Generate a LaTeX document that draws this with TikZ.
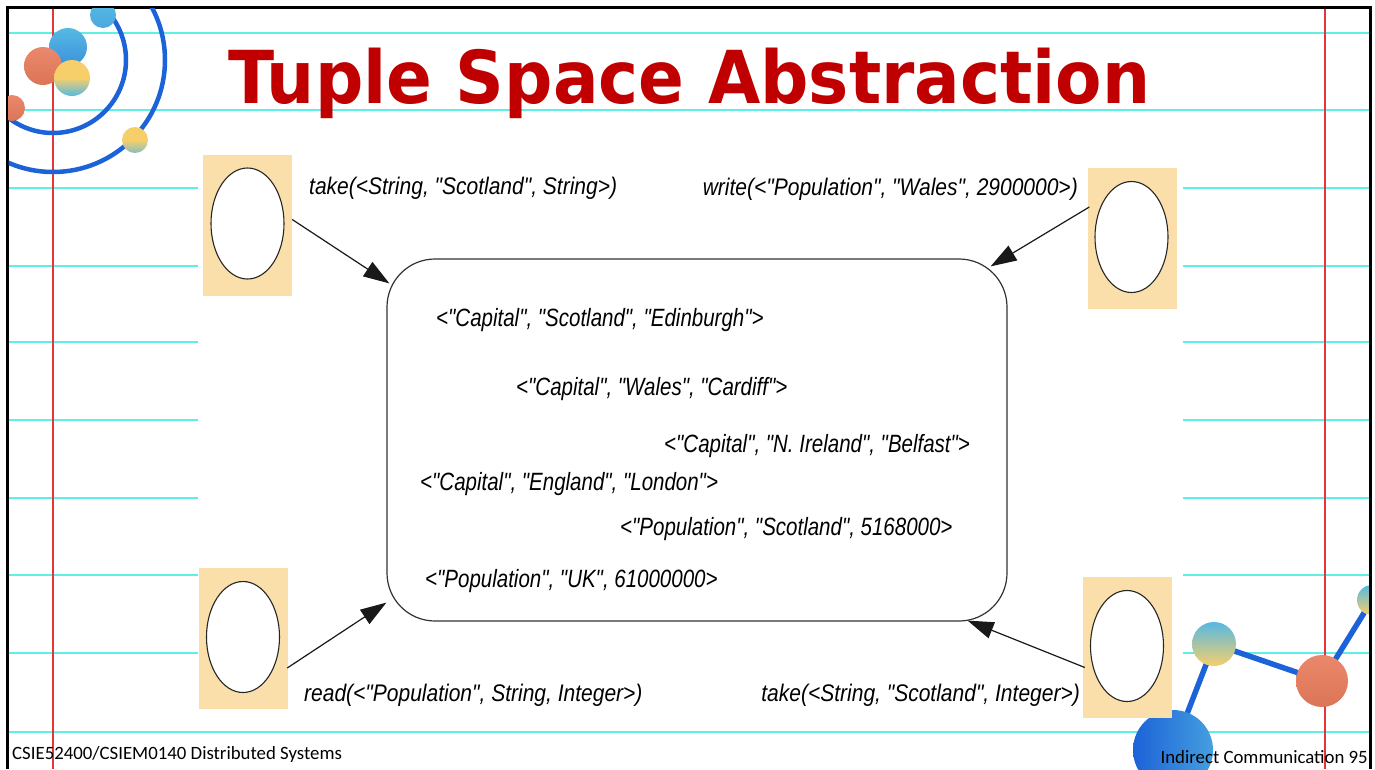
\documentclass[tikz,border=0pt]{standalone}
\usepackage{fontspec}
\setmainfont{Liberation Sans}
\newfontfamily\titlefont[FakeStretch=0.926]{DejaVu Sans}
\newfontfamily\opfont[FakeStretch=0.875]{Liberation Sans}
\newfontfamily\tuplefont[FakeStretch=0.82]{Liberation Sans}
\newfontfamily\footfont{Carlito}
\usetikzlibrary{arrows.meta,shapes.geometric,calc}

\definecolor{ruleline}{HTML}{5EEFE6}
\definecolor{marginred}{HTML}{E3353A}
\definecolor{titlered}{HTML}{C00000}
\definecolor{peach}{HTML}{FBDFAB}
\definecolor{orbitblue}{HTML}{1C62D8}
\definecolor{skyblue}{HTML}{56B9E2}
\definecolor{sunyellow}{HTML}{F6CF6B}
\definecolor{coral}{HTML}{E87B5B}

\tikzset{
  ruled/.style={draw=ruleline, line width=2.6pt},
  margin/.style={draw=marginred, line width=1.6pt},
  procbox/.style={fill=peach, inner sep=0pt, minimum width=89pt, minimum height=141pt},
  proc/.style={ellipse, draw=black!85, fill=white, line width=1.1pt, inner sep=0pt,
               minimum width=73pt, minimum height=111pt},
  spacebox/.style={draw=black!80, line width=1.2pt, rounded corners=48pt, inner sep=0pt,
                   minimum width=620pt, minimum height=362pt},
  optext/.style={font=\opfont\itshape\fontsize{24}{24}\selectfont, inner sep=0pt},
  tupletext/.style={font=\tuplefont\itshape\fontsize{25}{25}\selectfont, inner sep=0pt, anchor=base west},
  conn/.style={draw=black!90, line width=1.2pt, -{Triangle[length=26pt,width=17pt]}},
  orbit/.style={draw=orbitblue, line width=4.5pt},
  link/.style={draw=orbitblue, line width=5.5pt},
  foot/.style={font=\footfont\fontsize{18.8}{19}\selectfont, inner sep=0pt},
}

\begin{document}
\begin{tikzpicture}[x=1pt,y=-1pt]
\useasboundingbox (0,0) rectangle (1375,769);
\fill[white] (0,0) rectangle (1375,769);

% notebook paper: ruled lines and margins
\foreach \yy in {33,110,188,266,342,420,498,575,653,732}
  \draw[ruled] (8,\yy) -- (1370,\yy);
\draw[margin] (53,8) -- (53,769);
\draw[margin] (1325,8) -- (1325,769);

% white panel behind the diagram
\fill[white] (198,140) rectangle (1183,722);

% slide frame
\draw[line width=3pt] (7,769) -- (7,7) -- (1370,7) -- (1370,769);

% corner ornaments
\begin{scope}
  \clip (8.5,8.5) rectangle (1368.5,769);
  % orbits, top left
  \draw[orbit] (53,60) circle[radius=73];
  \draw[orbit] (53,60) circle[radius=112];
  \shade[top color=skyblue, bottom color=skyblue!80!orbitblue] (103,15) circle[radius=13];
  \shade[top color=skyblue, bottom color=skyblue!55!orbitblue] (68,47) circle[radius=19];
  \shade[top color=coral!90!white, bottom color=coral!95!black] (43,66) circle[radius=19];
  \shade[top color=sunyellow, bottom color=skyblue, middle color=sunyellow] (72,78) circle[radius=18];
  \shade[top color=coral!90!white, bottom color=coral!95!black] (12,108) circle[radius=13];
  \shade[top color=sunyellow, bottom color=skyblue!70!sunyellow, middle color=sunyellow] (135,140) circle[radius=13];
  % molecule, bottom right
  \draw[link] (1173,750) -- (1214,644) -- (1322,681) -- (1372,600);
  \shade[left color=orbitblue, right color=skyblue!70!orbitblue] (1173,750) circle[radius=40];
  \shade[shading angle=135, top color=skyblue, bottom color=sunyellow] (1214,644) circle[radius=22];
  \shade[top color=coral!90!white, bottom color=coral!95!black] (1322,681) circle[radius=26];
  \shade[shading angle=135, top color=skyblue, bottom color=sunyellow] (1372,600) circle[radius=15];
\end{scope}

% title
\node[font=\titlefont\bfseries\fontsize{73}{73}\selectfont, text=titlered, inner sep=0pt,
      anchor=base west] (title) at (228,103) {Tuple Space Abstraction};

% the tuple space
\node[spacebox] (space) at (697,440) {};
\node[tupletext] (t1) at (436,326) {<"Capital", "Scotland", "Edinburgh">};
\node[tupletext] (t2) at (516,395) {<"Capital", "Wales", "Cardiff">};
\node[tupletext] (t3) at (664,452) {<"Capital", "N. Ireland", "Belfast">};
\node[tupletext] (t4) at (420,490) {<"Capital", "England", "London">};
\node[tupletext] (t5) at (620,535) {<"Population", "Scotland", 5168000>};
\node[tupletext] (t6) at (425,587) {<"Population", "UK", 61000000>};

% processes
\node[procbox] (boxTL) at (247.5,225.5) {};
\node[proc] (procTL) at (247.5,223.5) {};
\node[procbox] (boxTR) at (1132,238) {};
\node[proc] (procTR) at (1131.5,237) {};
\node[procbox] (boxBL) at (243.5,638) {};
\node[proc] (procBL) at (243,637) {};
\node[procbox] (boxBR) at (1127.5,647.5) {};
\node[proc] (procBR) at (1127,646) {};

% operation labels
\node[optext, anchor=base west] (opTL) at (309,194) {take(<String, "Scotland", String>)};
\node[optext, anchor=base east] (opTR) at (1078,195) {write(<"Population", "Wales", 2900000>)};
\node[optext, anchor=base west] (opBL) at (304,701) {read(<"Population", String, Integer>)};
\node[optext, anchor=base east] (opBR) at (1080,701) {take(<String, "Scotland", Integer>)};

% operations acting on the space
\coordinate (inTL) at ($(space.north west)+(3,25)$);
\coordinate (inTR) at ($(space.north east)+(-17,8)$);
\coordinate (inBL) at ($(space.south west)+(0,-19)$);
\coordinate (inBR) at ($(space.south east)+(-40,-1)$);
\draw[conn] ($(boxTL.east)+(0,-6)$) -- (inTL);
\draw[conn] ($(boxTR.west)+(2,-31)$) -- (inTR);
\draw[conn] ($(boxBL.east)+(-1,30)$) -- (inBL);
\draw[conn] ($(boxBR.west)+(2,20)$) -- (inBR);

% footer
\node[foot, anchor=base west] (course) at (12,759) {CSIE52400/CSIEM0140 Distributed Systems};
\node[foot, anchor=base east] (page) at (1368,763) {Indirect Communication 95};
\end{tikzpicture}
\end{document}
